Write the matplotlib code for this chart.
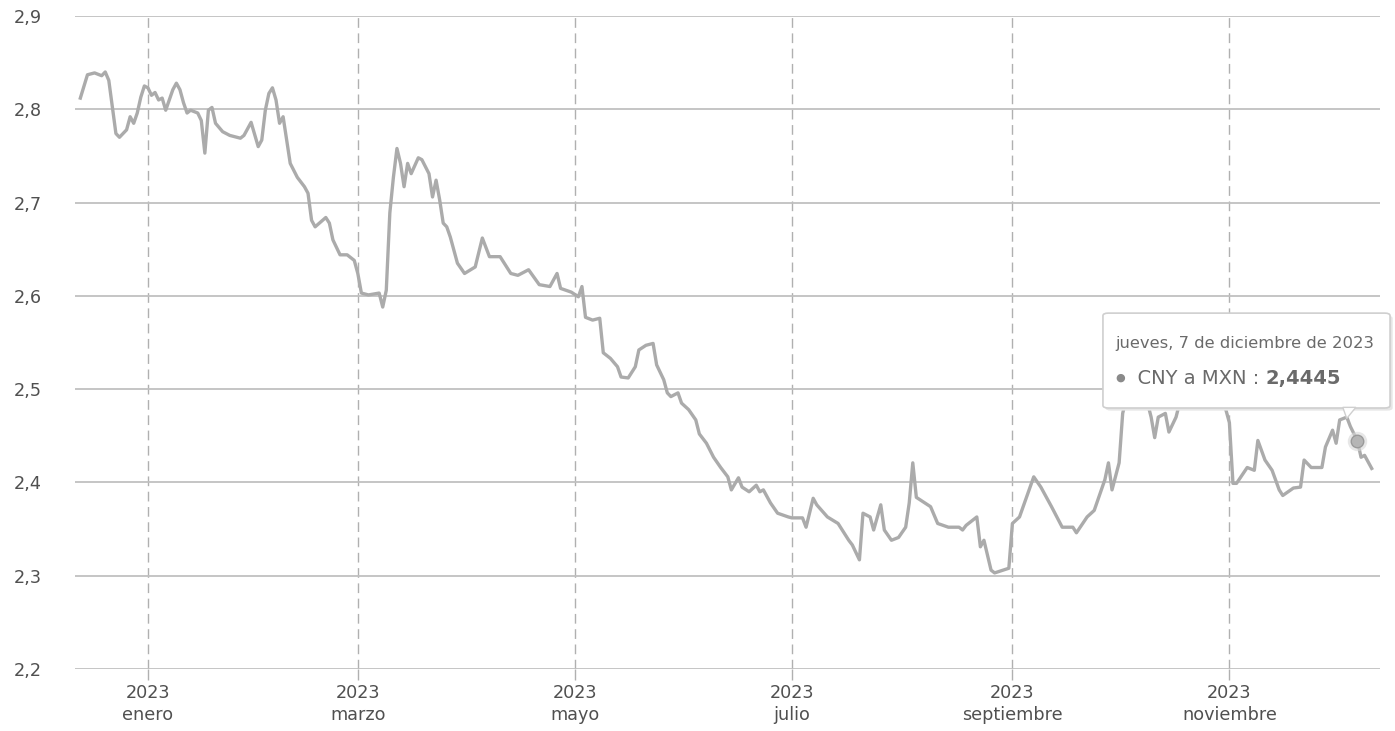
import matplotlib
matplotlib.use("Agg")
import matplotlib.pyplot as plt
from matplotlib.patches import FancyBboxPatch, Polygon
import pandas as pd
from datetime import datetime

plt.rcParams['font.family'] = ['DejaVu Sans']

dates = [
    "2022-12-13", "2022-12-15", "2022-12-17", "2022-12-19", "2022-12-20", "2022-12-21",
    "2022-12-23", "2022-12-24", "2022-12-26", "2022-12-27", "2022-12-28", "2022-12-29",
    "2022-12-30", "2022-12-31", "2023-01-01", "2023-01-02", "2023-01-03", "2023-01-04",
    "2023-01-05", "2023-01-06", "2023-01-07", "2023-01-08", "2023-01-09", "2023-01-10",
    "2023-01-11", "2023-01-12", "2023-01-13", "2023-01-15", "2023-01-16", "2023-01-17",
    "2023-01-18", "2023-01-19", "2023-01-20", "2023-01-22", "2023-01-24", "2023-01-27",
    "2023-01-28", "2023-01-30", "2023-02-01", "2023-02-02", "2023-02-03", "2023-02-04",
    "2023-02-05", "2023-02-06", "2023-02-07", "2023-02-08", "2023-02-09", "2023-02-10",
    "2023-02-12", "2023-02-14", "2023-02-15", "2023-02-16", "2023-02-17", "2023-02-20",
    "2023-02-21", "2023-02-22", "2023-02-24", "2023-02-26", "2023-02-28", "2023-03-01",
    "2023-03-02", "2023-03-04", "2023-03-07", "2023-03-08", "2023-03-09", "2023-03-10",
    "2023-03-11", "2023-03-12", "2023-03-13", "2023-03-14", "2023-03-15", "2023-03-16",
    "2023-03-18", "2023-03-19", "2023-03-21", "2023-03-22", "2023-03-23", "2023-03-24",
    "2023-03-25", "2023-03-26", "2023-03-27", "2023-03-29", "2023-03-31", "2023-04-03",
    "2023-04-05", "2023-04-07", "2023-04-09", "2023-04-10", "2023-04-13", "2023-04-15",
    "2023-04-18", "2023-04-21", "2023-04-24", "2023-04-26", "2023-04-27", "2023-04-30",
    "2023-05-02", "2023-05-03", "2023-05-04", "2023-05-06", "2023-05-08", "2023-05-09",
    "2023-05-11", "2023-05-13", "2023-05-14", "2023-05-16", "2023-05-18", "2023-05-19",
    "2023-05-21", "2023-05-23", "2023-05-24", "2023-05-26", "2023-05-27", "2023-05-28",
    "2023-05-30", "2023-05-31", "2023-06-02", "2023-06-04", "2023-06-05", "2023-06-07",
    "2023-06-09", "2023-06-11", "2023-06-13", "2023-06-14", "2023-06-16", "2023-06-17",
    "2023-06-19", "2023-06-21", "2023-06-22", "2023-06-23", "2023-06-25", "2023-06-27",
    "2023-06-30", "2023-07-01", "2023-07-04", "2023-07-05", "2023-07-07", "2023-07-08",
    "2023-07-11", "2023-07-14", "2023-07-17", "2023-07-18", "2023-07-20", "2023-07-21",
    "2023-07-23", "2023-07-24", "2023-07-26", "2023-07-27", "2023-07-29", "2023-07-31",
    "2023-08-02", "2023-08-03", "2023-08-04", "2023-08-05", "2023-08-07", "2023-08-09",
    "2023-08-11", "2023-08-14", "2023-08-17", "2023-08-18", "2023-08-19", "2023-08-22",
    "2023-08-23", "2023-08-24", "2023-08-26", "2023-08-27", "2023-08-31", "2023-09-01",
    "2023-09-03", "2023-09-07", "2023-09-09", "2023-09-12", "2023-09-15", "2023-09-18",
    "2023-09-19", "2023-09-22", "2023-09-24", "2023-09-27", "2023-09-28", "2023-09-29",
    "2023-10-01", "2023-10-02", "2023-10-04", "2023-10-06", "2023-10-08", "2023-10-10",
    "2023-10-11", "2023-10-12", "2023-10-14", "2023-10-15", "2023-10-17", "2023-10-19",
    "2023-10-23", "2023-10-26", "2023-10-31", "2023-11-01", "2023-11-02", "2023-11-03",
    "2023-11-06", "2023-11-08", "2023-11-09", "2023-11-11", "2023-11-13", "2023-11-15",
    "2023-11-16", "2023-11-19", "2023-11-21", "2023-11-22", "2023-11-24", "2023-11-27",
    "2023-11-28", "2023-11-30", "2023-12-01", "2023-12-02", "2023-12-04", "2023-12-05",
    "2023-12-07", "2023-12-08", "2023-12-09", "2023-12-11",
]

rates = [
    2.812, 2.837, 2.839, 2.836, 2.840, 2.831,
    2.774, 2.770, 2.778, 2.792, 2.785, 2.796,
    2.813, 2.825, 2.823, 2.815, 2.818, 2.810,
    2.812, 2.799, 2.810, 2.821, 2.828, 2.821,
    2.807, 2.796, 2.799, 2.796, 2.788, 2.753,
    2.799, 2.802, 2.785, 2.776, 2.772, 2.769,
    2.772, 2.786, 2.760, 2.767, 2.799, 2.817,
    2.823, 2.810, 2.785, 2.792, 2.767, 2.742,
    2.727, 2.717, 2.710, 2.681, 2.674, 2.684,
    2.678, 2.660, 2.644, 2.644, 2.638, 2.624,
    2.603, 2.601, 2.603, 2.588, 2.606, 2.689,
    2.727, 2.758, 2.742, 2.717, 2.742, 2.731,
    2.748, 2.746, 2.731, 2.706, 2.724, 2.703,
    2.678, 2.674, 2.663, 2.635, 2.624, 2.631,
    2.662, 2.642, 2.642, 2.642, 2.624, 2.622,
    2.628, 2.612, 2.610, 2.624, 2.608, 2.604,
    2.599, 2.610, 2.577, 2.574, 2.576, 2.539,
    2.533, 2.524, 2.513, 2.512, 2.524, 2.542,
    2.547, 2.549, 2.526, 2.510, 2.496, 2.492,
    2.496, 2.485, 2.478, 2.467, 2.452, 2.442,
    2.427, 2.416, 2.406, 2.392, 2.405, 2.395,
    2.390, 2.397, 2.390, 2.392, 2.378, 2.367,
    2.363, 2.362, 2.362, 2.352, 2.383, 2.376,
    2.363, 2.356, 2.338, 2.333, 2.317, 2.367,
    2.363, 2.349, 2.376, 2.349, 2.338, 2.341,
    2.352, 2.378, 2.421, 2.384, 2.379, 2.374,
    2.356, 2.352, 2.352, 2.349, 2.354, 2.363,
    2.331, 2.338, 2.306, 2.303, 2.308, 2.356,
    2.363, 2.406, 2.395, 2.374, 2.352, 2.352,
    2.346, 2.363, 2.370, 2.403, 2.421, 2.392,
    2.421, 2.474, 2.505, 2.515, 2.500, 2.470,
    2.448, 2.470, 2.474, 2.454, 2.470, 2.500,
    2.512, 2.502, 2.478, 2.464, 2.399, 2.399,
    2.416, 2.413, 2.445, 2.424, 2.413, 2.392,
    2.386, 2.394, 2.395, 2.424, 2.416, 2.416,
    2.438, 2.456, 2.442, 2.467, 2.470, 2.460,
    2.4445, 2.427, 2.429, 2.415,
]

tick_dates = ["2023-01-01", "2023-03-01", "2023-05-01", "2023-07-01", "2023-09-01", "2023-11-01"]
tick_labels = ["2023\nenero", "2023\nmarzo", "2023\nmayo", "2023\njulio",
               "2023\nseptiembre", "2023\nnoviembre"]
y_ticks = [2.2, 2.3, 2.4, 2.5, 2.6, 2.7, 2.8, 2.9]

tooltip_date = "2023-12-07"
tooltip_value = 2.4445
tooltip_title = "jueves, 7 de diciembre de 2023"
series_name = "CNY a MXN"

x = pd.to_datetime(dates)
tx = pd.to_datetime(tick_dates)

fig = plt.figure(figsize=(13.95, 7.31), dpi=100)
ax = fig.add_axes([75 / 1395, 62 / 731, 1305 / 1395, 653 / 731])

ax.plot(x, rates, color="#ababab", lw=2.4, solid_joinstyle="round", zorder=3)

ax.set_xlim(datetime(2022, 12, 11, 12), datetime(2023, 12, 13, 8))
ax.set_ylim(2.2, 2.9)

ax.set_xticks(tx)
ax.set_xticklabels(tick_labels, linespacing=1.3)
ax.set_yticks(y_ticks)
ax.set_yticklabels([f"{v:.1f}".replace(".", ",") for v in y_ticks])

for s in ax.spines.values():
    s.set_visible(False)

ax.yaxis.grid(True, color="#c0c0c0", lw=1.3, zorder=1)
ax.xaxis.grid(True, color="#b0b0b0", lw=1.0, linestyle=(0, (7, 4)), zorder=1)
ax.set_axisbelow(True)

ax.tick_params(axis="x", length=8, width=1, color="#b0b0b0", pad=3,
               labelsize=12.7, labelcolor="#505050")
ax.tick_params(axis="y", length=0, pad=44, labelsize=12.7, labelcolor="#505050")
for lab in ax.get_yticklabels():
    lab.set_horizontalalignment("left")

# highlighted point
td = pd.to_datetime(tooltip_date)
ax.plot([td], [tooltip_value], "o", ms=14, color="#d8d8d8", alpha=0.6, zorder=4,
        markeredgewidth=0, clip_on=False)
ax.plot([td], [tooltip_value], "o", ms=9, color="#b5b5b5", markeredgecolor="#9a9a9a",
        markeredgewidth=1, zorder=5, clip_on=False)

# tooltip
bx0, by0, bw, bh = 0.7877, 0.3997, 0.2200, 0.1453
shadow = FancyBboxPatch((bx0 + 0.002, by0 - 0.004), bw, bh,
                        boxstyle="round,pad=0,rounding_size=0.004",
                        transform=ax.transAxes, facecolor="#e6e6e6", edgecolor="none",
                        zorder=6, clip_on=False)
ax.add_patch(shadow)
box = FancyBboxPatch((bx0, by0), bw, bh, boxstyle="round,pad=0,rounding_size=0.004",
                     transform=ax.transAxes, facecolor="white", edgecolor="#cfcfcf",
                     lw=1.2, zorder=7, clip_on=False)
ax.add_patch(box)
ptr = Polygon([(0.9715, by0 + 0.001), (0.9815, by0 + 0.001), (0.9745, by0 - 0.016)],
              closed=True, transform=ax.transAxes, facecolor="white",
              edgecolor="#cfcfcf", lw=1.0, zorder=7, clip_on=False)
ax.add_patch(ptr)

ax.text(0.7975, 0.498, tooltip_title, transform=ax.transAxes, fontsize=11.8,
        color="#6a6a6a", va="center", ha="left", zorder=8)
b = ax.text(0.7975, 0.4455, "\u25cf", transform=ax.transAxes,
            fontsize=8, color="#8a8a8a", va="center", ha="left", zorder=8)
t1 = ax.annotate("  " + series_name + " : ", xy=(1, 0.5), xycoords=b,
                 fontsize=14, color="#6a6a6a", va="center", ha="left", zorder=8)
ax.annotate(f"{tooltip_value:.4f}".replace(".", ","), xy=(1, 0.5), xycoords=t1,
            va="center", ha="left", fontsize=14, fontweight="bold", color="#6a6a6a",
            zorder=8)

fig.savefig("out.png", dpi=100, facecolor="white")
